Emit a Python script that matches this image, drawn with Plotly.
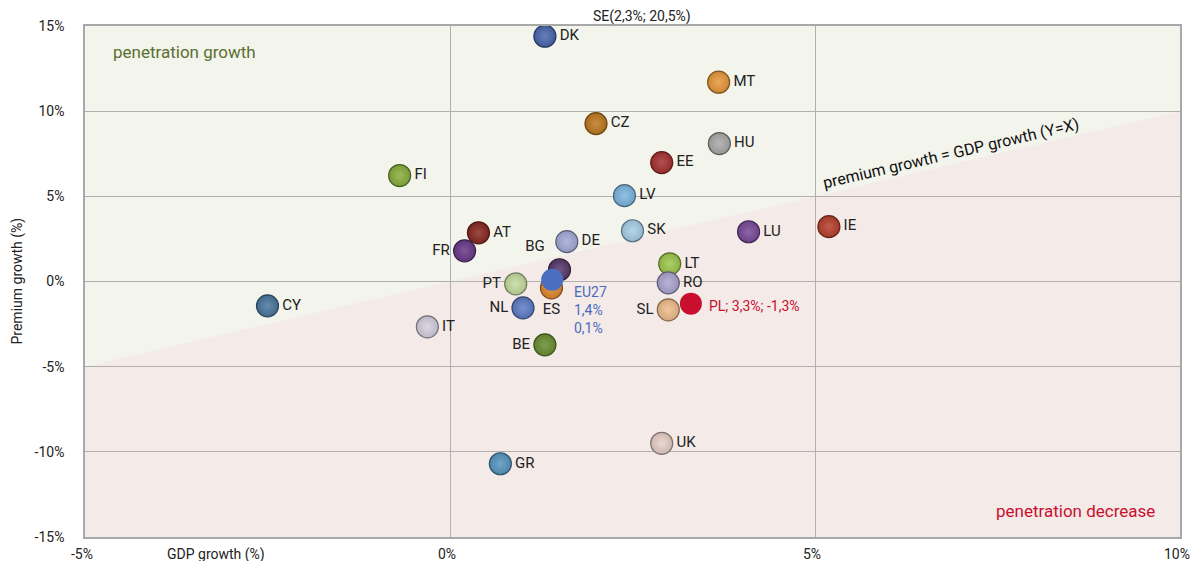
import plotly.graph_objects as go

# ---- data ----
countries = ["DK", "MT", "CZ", "HU", "EE", "FI", "LV", "IE", "AT", "SK", "LU", "DE", "FR",
             "BG", "LT", "RO", "PT", "ES", "CY", "NL", "SL", "IT", "BE", "UK", "GR"]
gdp_growth = [1.30, 3.68, 2.00, 3.69, 2.90, -0.69, 2.39, 5.19, 0.39, 2.50, 4.09, 1.60, 0.20,
              1.50, 3.01, 2.99, 0.90, 1.39, -2.50, 1.00, 2.99, -0.31, 1.30, 2.90, 0.69]
premium_growth = [14.4, 11.7, 9.27, 8.1, 6.98, 6.22, 5.04, 3.22, 2.86, 2.98, 2.92, 2.34, 1.80,
                  0.69, 1.04, -0.08, -0.14, -0.37, -1.43, -1.55, -1.66, -2.66, -3.72, -9.5, -10.7]
eu27 = {"name": "EU27", "gdp": 1.4, "premium": 0.1}
pl = {"name": "PL", "gdp": 3.3, "premium": -1.3}
se_note = "SE(2,3%; 20,5%)"
x_ticks = [-5, 0, 5, 10]
x_tick_labels = ["-5%", "0%", "5%", "10%"]
y_ticks = [-15, -10, -5, 0, 5, 10, 15]
y_tick_labels = ["-15%", "-10%", "-5%", "0%", "5%", "10%", "15%"]

# ---- styles ----
colors = {
    "DK": "#4a68b0", "MT": "#e89a3c", "CZ": "#c07a22", "HU": "#ababab", "EE": "#a83232",
    "FI": "#8ab03e", "LV": "#7cb8e0", "IE": "#b8402e", "AT": "#8a2a22", "SK": "#a8d0ea",
    "LU": "#7a4a9a", "DE": "#a4acd8", "FR": "#6a3a8a", "BG": "#5a3a6c", "LT": "#9ec84c",
    "RO": "#aea6d2", "PT": "#c6dca0", "ES": "#e08a2e", "CY": "#4a78a0", "NL": "#5e7ec6",
    "SL": "#f0be8c", "IT": "#d6d0e0", "BE": "#6a9032", "UK": "#e8d2ca", "GR": "#5898c0",
}
label_pos = {
    "FR": "middle left", "PT": "middle left", "NL": "middle left", "SL": "middle left",
    "BE": "middle left", "BG": "top left", "ES": "bottom center",
}
FONT = "Roboto, 'DejaVu Sans', sans-serif"


def shade(hexcol, f):
    h = hexcol.lstrip("#")
    r, g, b = (int(h[i:i + 2], 16) for i in (0, 2, 4))
    if f > 0:
        r, g, b = (int(c + (255 - c) * f) for c in (r, g, b))
    else:
        r, g, b = (int(c * (1 + f)) for c in (r, g, b))
    return "#%02x%02x%02x" % (r, g, b)


fig = go.Figure()

# background zones
fig.add_shape(type="rect", x0=-5, x1=10, y0=-15, y1=15, xref="x", yref="y",
              fillcolor="#f3f4ec", line_width=0, layer="below")
fig.add_shape(type="path", path="M -5 -5 L 10 10 L 10 -15 L -5 -15 Z", xref="x", yref="y",
              fillcolor="#f4eae8", line_width=0, layer="below")

cols = [colors[c] for c in countries]
fig.add_trace(go.Scatter(
    x=gdp_growth, y=premium_growth, mode="markers+text",
    text=countries,
    textposition=[label_pos.get(c, "middle right") for c in countries],
    textfont=dict(family=FONT, size=15, color="#222222"),
    marker=dict(size=22, color=[shade(c, -0.12) for c in cols],
                gradient=dict(type="radial", color=[shade(c, 0.15) for c in cols]),
                line=dict(width=1.2, color=[shade(c, -0.45) for c in cols]),
                opacity=1),
    cliponaxis=False, showlegend=False, hoverinfo="text",
))

# EU27 point
fig.add_trace(go.Scatter(
    x=[eu27["gdp"]], y=[eu27["premium"]], mode="markers",
    marker=dict(size=22, color="#4a6fc0", line=dict(width=0)),
    showlegend=False, hoverinfo="skip",
))
# PL point
fig.add_trace(go.Scatter(
    x=[pl["gdp"]], y=[pl["premium"]], mode="markers",
    marker=dict(size=22, color="#c8102e", line=dict(width=0)),
    showlegend=False, hoverinfo="skip",
))

fmt = lambda v: ("%.1f" % v).replace(".", ",") + "%"

annotations = [
    dict(x=eu27["gdp"], y=eu27["premium"], xref="x", yref="y", xanchor="left", yanchor="top",
         xshift=20, yshift=-2, align="left", showarrow=False,
         text=f"{eu27['name']}<br>{fmt(eu27['gdp'])}<br>{fmt(eu27['premium'])}",
         font=dict(family=FONT, size=14, color="#4a6ac0")),
    dict(x=pl["gdp"], y=pl["premium"], xref="x", yref="y", xanchor="left", yanchor="middle",
         xshift=16, yshift=-2, showarrow=False,
         text=f"{pl['name']}; {fmt(pl['gdp'])}; {fmt(pl['premium'])}",
         font=dict(family=FONT, size=14, color="#c8102e")),
    dict(x=2.63, y=1, xref="x", yref="paper", xanchor="center", yanchor="bottom", yshift=-1,
         showarrow=False, text=se_note, font=dict(family=FONT, size=14, color="#222222")),
    dict(x=-4.65, y=13.5, xref="x", yref="y", xanchor="left", yanchor="middle", showarrow=False,
         text="penetration growth", font=dict(family=FONT, size=17, color="#5a7030")),
    dict(x=9.68, y=-13.5, xref="x", yref="y", xanchor="right", yanchor="middle", showarrow=False,
         text="penetration decrease", font=dict(family=FONT, size=17, color="#c8102e")),
    dict(x=6.86, y=7.5, xref="x", yref="y", xanchor="center", yanchor="middle", showarrow=False,
         textangle=-13.1, text="premium growth = GDP growth (Y=X)",
         font=dict(family=FONT, size=16, color="#111111")),
    dict(x=-3.21, y=0, xref="x", yref="paper", xanchor="center", yanchor="top", yshift=-7,
         showarrow=False, text="GDP growth (%)",
         font=dict(family=FONT, size=14, color="#222222")),
    dict(x=0, y=0.5, xref="paper", yref="paper", xanchor="center", yanchor="middle", xshift=-68,
         textangle=-90, showarrow=False, text="Premium growth (%)",
         font=dict(family=FONT, size=14, color="#222222")),
]
# x-axis tick labels (drawn as annotations so the last one stays inside the page)
for v, lab in zip(x_ticks, x_tick_labels):
    annotations.append(dict(x=v, y=0, xref="x", yref="paper", xanchor="center", yanchor="top",
                            xshift=-3, yshift=-7, showarrow=False, text=lab,
                            font=dict(family=FONT, size=14, color="#222222")))

fig.update_layout(
    width=1190, height=561,
    margin=dict(l=85, r=10, t=26, b=24, autoexpand=False),
    paper_bgcolor="white", plot_bgcolor="rgba(0,0,0,0)",
    annotations=annotations,
    font=dict(family=FONT, size=14, color="#222222"),
    xaxis=dict(range=[-5, 10], tickvals=x_ticks, showticklabels=False, automargin=False,
               showgrid=True, gridcolor="#b0b0b0", gridwidth=1, zeroline=False,
               showline=True, mirror=True, linecolor="#a8a8a8", linewidth=1.5, ticks=""),
    yaxis=dict(range=[-15, 15], tickvals=y_ticks, ticktext=y_tick_labels, automargin=False,
               showgrid=True, gridcolor="#b0b0b0", gridwidth=1, zeroline=False,
               showline=True, mirror=True, linecolor="#a8a8a8", linewidth=1.5,
               ticks="outside", ticklen=16, tickcolor="rgba(0,0,0,0)",
               tickfont=dict(family=FONT, size=14, color="#222222")),
)

fig.write_html(
    "out.html",
    config={"displayModeBar": False},
    post_script="document.body.style.margin='0';document.body.style.overflow='hidden';",
)
